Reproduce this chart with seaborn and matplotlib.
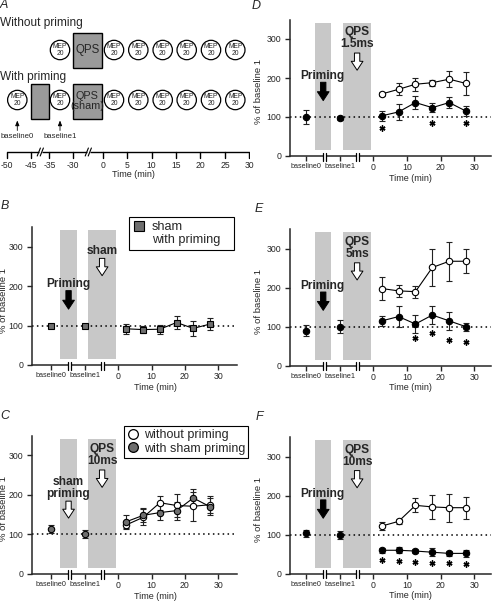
import matplotlib
matplotlib.use('Agg')
import numpy as np
import pandas as pd
import matplotlib.pyplot as plt
import seaborn as sns
from matplotlib.patches import Circle, Rectangle
from matplotlib.lines import Line2D

sns.set_style('ticks')
plt.rcParams['font.family'] = ['Liberation Sans', 'DejaVu Sans']

# ---- data (% of baseline 1, mean and error) ----
post_times = [2.5, 7.5, 12.5, 17.5, 22.5, 27.5]
base_times = [-20, -10]

b_sham_base = [98, 100]
b_sham_base_err = [4, 4]
b_sham_post = [92, 90, 91, 108, 93, 104]
b_sham_post_err = [13, 8, 11, 17, 19, 16]

c_sham_base = [113, 100]
c_sham_base_err = [11, 10]
c_sham_post = [132, 148, 155, 160, 192, 170]
c_sham_post_err = [17, 18, 18, 23, 24, 22]
c_open_post = [124, 143, 180, 173, 171, 175]
c_open_post_err = [10, 20, 18, 30, 37, 22]

d_open_post = [159, 171, 184, 188, 197, 186]
d_open_post_err = [6, 15, 17, 8, 20, 30]
d_prim_base = [100, 98]
d_prim_base_err = [17, 5]
d_prim_post = [103, 113, 137, 124, 137, 115]
d_prim_post_err = [12, 20, 17, 12, 14, 13]
d_star_x = [2.5, 17.5, 27.5]
d_star_y = [71, 84, 84]

e_open_post = [198, 192, 190, 252, 268, 268]
e_open_post_err = [29, 15, 15, 47, 50, 31]
e_prim_base = [90, 100]
e_prim_base_err = [15, 17]
e_prim_post = [115, 126, 107, 130, 115, 100]
e_prim_post_err = [12, 26, 23, 23, 23, 10]
e_star_x = [12.5, 17.5, 22.5, 27.5]
e_star_y = [70, 85, 66, 62]

f_open_post = [122, 134, 175, 171, 169, 169]
f_open_post_err = [10, 7, 18, 30, 36, 28]
f_prim_base = [103, 100]
f_prim_base_err = [10, 10]
f_prim_post = [60, 60, 58, 55, 52, 52]
f_prim_post_err = [6, 8, 5, 10, 7, 9]
f_star_x = [2.5, 7.5, 12.5, 17.5, 22.5, 27.5]
f_star_y = [34, 32, 31, 28, 28, 26]

xtick_pos = [-20, -10, 0, 10, 20, 30]
xtick_labels = ['baseline0', 'baseline1', '0', '10', '20', '30']

GRAY_MK = '#6e6e6e'
BAND = '#c8c8c8'
W, H = 492, 603
ARROW = 'simple,head_length=0.8,head_width=1.05,tail_width=0.48'

fig = plt.figure(figsize=(W / 100, H / 100), dpi=100)


def px_rect(left, top, right, bottom):
    return [left / W, 1 - bottom / H, (right - left) / W, (bottom - top) / H]


def panel_letter(x, y, s):
    fig.text(x / W, 1 - y / H, s, fontsize=9, style='italic', ha='center', va='center')


# ---------------- panel A: protocol diagram ----------------
axA = fig.add_axes([0, 1 - 182 / H, 250 / W, 182 / H])
axA.set_xlim(0, 250)
axA.set_ylim(182, 0)
axA.axis('off')

axA.text(0, 23, 'Without priming', fontsize=8.6, va='center', ha='left')
axA.text(0, 77, 'With priming', fontsize=8.6, va='center', ha='left')

mep_after = [114, 138.3, 162.7, 186.7, 211, 235.3]


def mep(x, y):
    axA.add_patch(Circle((x, y), 9.7, fc='white', ec='black', lw=0.9))
    axA.text(x, y + 0.3, 'MEP\n20', fontsize=4.9, ha='center', va='center', linespacing=0.95)


for cx in [60] + mep_after:
    mep(cx, 50)
axA.add_patch(Rectangle((72.7, 32.5), 29.3, 35.5, fc='#9a9a9a', ec='black', lw=1))
axA.text(87.3, 50.5, 'QPS', fontsize=8.3, ha='center', va='center')

for cx in [17.3, 60] + mep_after:
    mep(cx, 100)
axA.add_patch(Rectangle((31.3, 83.5), 17.4, 35, fc='#9a9a9a', ec='black', lw=1))
axA.add_patch(Rectangle((72.7, 83.5), 29.3, 35, fc='#9a9a9a', ec='black', lw=1))
axA.text(87.3, 101, 'QPS\n(sham)', fontsize=7.8, ha='center', va='center', linespacing=1.0)

for cx, lab in [(17.3, 'baseline0'), (60, 'baseline1')]:
    axA.annotate('', xy=(cx, 120.5), xytext=(cx, 130.5),
                 arrowprops=dict(arrowstyle='-|>,head_length=0.3,head_width=0.12',
                                 lw=0.6, color='black', shrinkA=0, shrinkB=0))
    axA.text(cx, 137, lab, fontsize=5.6, ha='center', va='center')

# timeline
tl_vals = ['-50', '-45', '-35', '-30', '0', '5', '10', '15', '20', '25', '30']
tl_pos = [7.3, 31, 49.3, 73.3, 102.7, 127.3, 151.7, 176, 200.3, 225, 249.3]
tl_y = 152
for a, b in [(7.3, 38.8), (41.8, 86.8), (89.8, 249.3)]:
    axA.plot([a, b], [tl_y, tl_y], color='black', lw=1, solid_capstyle='butt')
for xb in [38.8, 41.8, 86.8, 89.8]:
    axA.plot([xb - 1.6, xb + 1.6], [tl_y + 4, tl_y - 4], color='black', lw=0.8)
for xp, lab in zip(tl_pos, tl_vals):
    axA.plot([xp, xp], [tl_y, tl_y + 6], color='black', lw=1)
    axA.text(xp, 165, lab, fontsize=6.2, ha='center', va='center')
axA.text(133, 174.5, 'Time (min)', fontsize=6.5, ha='center', va='center')
panel_letter(4, 5, 'A')


# ---------------- time course panels ----------------
def setup(ax, xlim, prime_text, prime_fill, stim_text, stim_y):
    ax.set_xlim(*xlim)
    ax.set_ylim(0, 350)
    for lo, hi in [(-17.3, -12.4), (-8.9, -0.7)]:
        ax.axvspan(lo, hi, ymin=15 / 350, ymax=342 / 350, color=BAND, lw=0, zorder=0)
    ax.axhline(100, color='black', ls=(0, (1, 2.2)), lw=1.1, zorder=1)
    sns.despine(ax=ax)
    for s in ['left', 'bottom']:
        ax.spines[s].set_linewidth(1.1)
    ax.set_xticks(xtick_pos)
    ax.set_xticklabels(xtick_labels)
    ax.set_yticks([0, 100, 200, 300])
    ax.tick_params(labelsize=6.3, length=3.8, width=1, pad=1.5)
    ax.tick_params(axis='y', pad=2.5)
    for lab in ax.get_xticklabels()[:2]:
        lab.set_fontsize(5.2)
    ax.set_ylabel('% of baseline 1', fontsize=6.8)
    ax.yaxis.set_label_coords(-0.115 if xlim[0] < -25 else -0.135, 0.47)
    ax.set_xlabel('Time (min)', fontsize=6.5, labelpad=0)
    ax.xaxis.set_label_coords(0.6, -0.13)
    # axis breaks
    tr = ax.get_xaxis_transform()
    for xb in [-14.5, -4.8]:
        ax.plot([xb - 0.45, xb + 0.45], [0, 0], color='white', lw=2.5, transform=tr,
                clip_on=False, zorder=5, solid_capstyle='butt')
        for dx in [-0.45, 0.45]:
            ax.plot([xb + dx, xb + dx], [-0.035, 0.025], color='black', lw=0.9,
                    transform=tr, clip_on=False, zorder=6)
    # annotations
    two = '\n' in prime_text
    ax.text(-15, 218 if two else 205, prime_text, fontsize=8.6, fontweight='bold',
            ha='center', va='center', linespacing=0.95, zorder=4)
    ax.annotate('', xy=(-14.85, 141 if two else 142), xytext=(-14.85, 184 if two else 189),
                arrowprops=dict(arrowstyle=ARROW, fc=prime_fill, ec='black', lw=0.7,
                                mutation_scale=8, shrinkA=0, shrinkB=0), zorder=4)
    ax.text(-4.8, stim_y, stim_text, fontsize=8.6, fontweight='bold', ha='center', va='center',
            linespacing=0.95, zorder=4)
    s_top = stim_y - 20 if '\n' not in stim_text else stim_y - 38
    ax.annotate('', xy=(-4.8, s_top - 44), xytext=(-4.8, s_top),
                arrowprops=dict(arrowstyle=ARROW, fc='white', ec='black', lw=0.7,
                                mutation_scale=8, shrinkA=0, shrinkB=0), zorder=4)


def series(ax, x, y, err, face, marker='o', connect=True):
    ax.errorbar(x, y, yerr=err, fmt='none', ecolor='#222222', elinewidth=0.8,
                capsize=2, capthick=0.8, zorder=2)
    df = pd.DataFrame({'t': x, 'v': y})
    if connect:
        sns.lineplot(data=df, x='t', y='v', ax=ax, color='black', lw=0.8, marker=marker,
                     markersize=4.6, markerfacecolor=face, markeredgecolor='black',
                     markeredgewidth=0.8, zorder=3)
    else:
        ax.plot(x, y, ls='none', marker=marker, ms=4.6, mfc=face, mec='black', mew=0.8, zorder=3)


def stars(ax, x, y):
    ax.plot(x, y, ls='none', marker=(6, 2, 0), ms=4.3, mew=1.0, color='black', zorder=3)


left_xlim = (-25.8, 35.6)
right_xlim = (-24.7, 34.9)

# B
axB = fig.add_axes(px_rect(32, 227.3, 237, 365))
setup(axB, left_xlim, 'Priming', 'black', 'sham', 291)
series(axB, base_times, b_sham_base, b_sham_base_err, GRAY_MK, 's', connect=False)
series(axB, post_times, b_sham_post, b_sham_post_err, GRAY_MK, 's')
hB = [Line2D([], [], ls='none', marker='s', ms=6.8, mfc=GRAY_MK, mec='black', mew=0.8),
      Line2D([], [], ls='none')]
axB.legend(hB, ['sham', 'with priming   '], loc='upper left', bbox_to_anchor=(0.475, 1.072),
           fontsize=9.2, frameon=True, fancybox=False, edgecolor='black', framealpha=1,
           handlelength=0.9, handletextpad=0.55, labelspacing=0.05, borderpad=0.3,
           borderaxespad=0)
axB.get_legend().get_frame().set_linewidth(0.8)
panel_letter(5, 206, 'B')

# C
axC = fig.add_axes(px_rect(32, 435.7, 237, 573.7))
setup(axC, left_xlim, 'sham\npriming', 'white', 'QPS\n10ms', 301)
series(axC, base_times, c_sham_base, c_sham_base_err, GRAY_MK, connect=False)
series(axC, post_times, c_open_post, c_open_post_err, 'white')
series(axC, post_times, c_sham_post, c_sham_post_err, GRAY_MK)
hC = [Line2D([], [], ls='none', marker='o', ms=7, mfc='white', mec='black', mew=0.9),
      Line2D([], [], ls='none', marker='o', ms=7, mfc=GRAY_MK, mec='black', mew=0.9)]
axC.legend(hC, ['without priming', 'with sham priming'], loc='upper left',
           bbox_to_anchor=(0.45, 1.072), fontsize=9, frameon=True, fancybox=False,
           edgecolor='black', framealpha=1, handlelength=0.9, handletextpad=0.4,
           labelspacing=0.15, borderpad=0.25, borderaxespad=0)
axC.get_legend().get_frame().set_linewidth(0.8)
panel_letter(5, 416, 'C')

# D
axD = fig.add_axes(px_rect(290, 19.5, 491, 156))
setup(axD, right_xlim, 'Priming', 'black', 'QPS\n1.5ms', 302)
series(axD, post_times, d_open_post, d_open_post_err, 'white')
series(axD, base_times, d_prim_base, d_prim_base_err, 'black', connect=False)
series(axD, post_times, d_prim_post, d_prim_post_err, 'black')
stars(axD, d_star_x, d_star_y)
panel_letter(256, 6, 'D')

# E
axE = fig.add_axes(px_rect(290, 229.3, 491, 365.7))
setup(axE, right_xlim, 'Priming', 'black', 'QPS\n5ms', 302)
series(axE, post_times, e_open_post, e_open_post_err, 'white')
series(axE, base_times, e_prim_base, e_prim_base_err, 'black', connect=False)
series(axE, post_times, e_prim_post, e_prim_post_err, 'black')
stars(axE, e_star_x, e_star_y)
panel_letter(259, 209, 'E')

# F
axF = fig.add_axes(px_rect(290, 437, 491, 573.7))
setup(axF, right_xlim, 'Priming', 'black', 'QPS\n10ms', 302)
series(axF, post_times, f_open_post, f_open_post_err, 'white')
series(axF, base_times, f_prim_base, f_prim_base_err, 'black', connect=False)
series(axF, post_times, f_prim_post, f_prim_post_err, 'black')
stars(axF, f_star_x, f_star_y)
panel_letter(259, 417, 'F')

fig.savefig('out.png', dpi=100)
